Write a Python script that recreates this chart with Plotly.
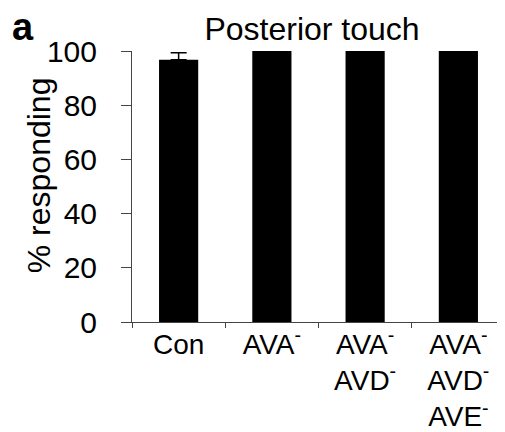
import plotly.graph_objects as go

categories = ["Con", "AVA<sup>-</sup>", "AVA<sup>-</sup><br>AVD<sup>-</sup>", "AVA<sup>-</sup><br>AVD<sup>-</sup><br>AVE<sup>-</sup>"]
values = [96.8, 100, 100, 100]
errors = [2.6, 0, 0, 0]
y_ticks = [0, 20, 40, 60, 80, 100]

FONT = "Liberation Sans, Arial, sans-serif"

fig = go.Figure()
fig.add_trace(go.Bar(
    x=categories,
    y=values,
    width=0.42,
    marker=dict(color="black", line=dict(width=0)),
    error_y=dict(type="data", array=errors, arrayminus=[0]*len(errors),
                 color="black", thickness=1.5, width=8),
))

fig.update_layout(
    width=505, height=432,
    margin=dict(l=124, r=8, t=43, b=118, autoexpand=False),
    plot_bgcolor="white", paper_bgcolor="white",
    showlegend=False,
    font=dict(family=FONT, color="black"),
    title=dict(text="Posterior touch", x=0.602, xanchor="center", y=0.953, yanchor="middle",
               font=dict(size=32, family=FONT, color="black")),
    xaxis=dict(
        type="category", range=[-0.5, 3.5],
        showline=True, linecolor="#444", linewidth=1,
        ticks="outside", tickson="boundaries", ticklen=5, tickcolor="#444", tickwidth=1,
        showgrid=False, zeroline=False, automargin=False,
        tickfont=dict(size=28, family=FONT, color="black"),
        ticklabelstandoff=-3,
    ),
    yaxis=dict(
        range=[0, 100], tickmode="array", tickvals=y_ticks,
        showline=True, linecolor="#444", linewidth=1,
        ticks="outside", ticklen=10, tickcolor="#444", tickwidth=1,
        showgrid=False, zeroline=False, automargin=False,
        tickfont=dict(size=30, family=FONT, color="black"),
        ticklabelstandoff=18,
    ),
)

fig.add_annotation(text="% responding", xref="paper", yref="paper",
                   x=-0.247, y=0.541, textangle=-90, showarrow=False,
                   xanchor="center", yanchor="middle",
                   font=dict(size=32, family=FONT, color="black"))

fig.add_annotation(text="<b>a</b>", xref="paper", yref="paper", x=-0.326, y=1.172,
                   showarrow=False, font=dict(size=38, family=FONT, color="black"),
                   xanchor="left", yanchor="top")

fig.write_html("out.html")
